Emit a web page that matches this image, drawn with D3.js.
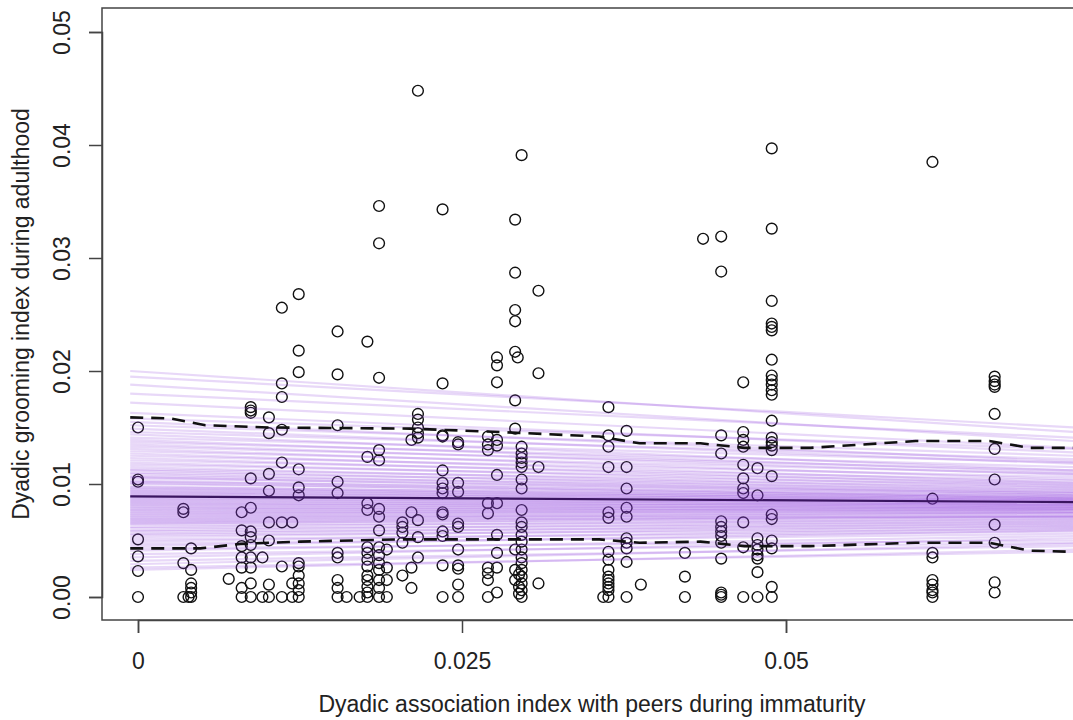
<!DOCTYPE html>
<html>
<head>
<meta charset="utf-8">
<script src="https://cdn.jsdelivr.net/npm/d3@7"></script>
<style>
  body { margin: 0; background: #fff; }
  svg { display: block; font-family: "Liberation Sans", Arial, sans-serif; }
</style>
</head>
<body>
<div class="container"></div>
<script>
const WIDTH = 1073;
const HEIGHT = 720;

// plot box (right edge runs off the page)
const BOX = {left: 102, top: 8, right: 1082, bottom: 620};

// association index of each group of dyads
var assocX = [0.0000, 0.0035, 0.0041, 0.0039, 0.0070, 0.0080, 0.0087, 0.0096, 0.0101, 0.0111,
  0.0119, 0.0124, 0.0154, 0.0161, 0.0171, 0.0177, 0.0186, 0.0192, 0.0204, 0.0211,
  0.0216, 0.0235, 0.0247, 0.0270, 0.0277, 0.0291, 0.0293, 0.0296, 0.0294, 0.0309,
  0.0359, 0.0363, 0.0377, 0.0388, 0.0422, 0.0436, 0.0450, 0.0467, 0.0478, 0.0489,
  0.0613, 0.0661];

// grooming index of the dyads sharing that association value
var groomY = [
  [0.0150, 0.0104, 0.0102, 0.0051, 0.0036, 0.0023, 0],
  [0.0078, 0.0075, 0.0030, 0],
  [0.0043, 0.0024, 0.0012, 0.0008, 0.0004, 0],
  [0],
  [0.0016],
  [0.0075, 0.0059, 0.0045, 0.0035, 0.0026, 0.0008, 0],
  [0.0168, 0.0165, 0.0163, 0.0105, 0.0079, 0.0058, 0.0053, 0.0046, 0.0035, 0.0026, 0.0012, 0],
  [0.0035, 0],
  [0.0159, 0.0145, 0.0109, 0.0094, 0.0066, 0.0050, 0.0011, 0],
  [0.0256, 0.0189, 0.0177, 0.0148, 0.0119, 0.0066, 0.0027, 0],
  [0.0066, 0.0012, 0],
  [0.0268, 0.0218, 0.0199, 0.0113, 0.0097, 0.0090, 0.0030, 0.0027, 0.0019, 0.0012, 0.0006, 0],
  [0.0235, 0.0197, 0.0152, 0.0102, 0.0092, 0.0039, 0.0035, 0.0015, 0.0008, 0],
  [0],
  [0],
  [0.0226, 0.0124, 0.0083, 0.0077, 0.0044, 0.0039, 0.0033, 0.0027, 0.0019, 0.0015, 0.0009, 0.0004, 0],
  [0.0346, 0.0313, 0.0194, 0.0130, 0.0121, 0.0078, 0.0071, 0.0059, 0.0044, 0.0037, 0.0030, 0.0024, 0.0015, 0.0008, 0],
  [0.0042, 0.0026, 0.0015, 0],
  [0.0066, 0.0062, 0.0057, 0.0048, 0.0019],
  [0.0139, 0.0075, 0.0026, 0.0008],
  [0.0448, 0.0162, 0.0157, 0.0150, 0.0145, 0.0141, 0.0068, 0.0053, 0.0035],
  [0.0343, 0.0189, 0.0143, 0.0142, 0.0112, 0.0101, 0.0096, 0.0092, 0.0075, 0.0073, 0.0058, 0.0054, 0.0028, 0],
  [0.0137, 0.0135, 0.0101, 0.0093, 0.0065, 0.0062, 0.0042, 0.0028, 0.0025, 0.0011, 0],
  [0.0142, 0.0135, 0.0130, 0.0083, 0.0074, 0.0026, 0.0021, 0.0015, 0],
  [0.0212, 0.0205, 0.0190, 0.0139, 0.0134, 0.0108, 0.0083, 0.0055, 0.0039, 0.0026, 0.0004],
  [0.0334, 0.0287, 0.0254, 0.0244, 0.0217, 0.0174, 0.0149, 0.0042, 0.0024, 0.0015],
  [0.0212],
  [0.0391, 0.0133, 0.0127, 0.0123, 0.0119, 0.0115, 0.0104, 0.0096, 0.0077, 0.0066, 0.0062, 0.0055, 0.0049, 0.0042, 0.0035, 0.0030, 0.0024, 0.0018, 0.0012, 0.0006, 0],
  [0.0020, 0.0009, 0.0003],
  [0.0271, 0.0198, 0.0115, 0.0012],
  [0],
  [0.0168, 0.0143, 0.0133, 0.0115, 0.0075, 0.0070, 0.0040, 0.0033, 0.0024, 0.0018, 0.0015, 0.0012, 0.0009, 0.0006, 0],
  [0.0147, 0.0115, 0.0096, 0.0079, 0.0071, 0.0052, 0.0048, 0.0043, 0.0031, 0],
  [0.0011],
  [0.0039, 0.0018, 0],
  [0.0317],
  [0.0319, 0.0288, 0.0143, 0.0127, 0.0067, 0.0062, 0.0058, 0.0054, 0.0048, 0.0034, 0.0004, 0.0002, 0],
  [0.0190, 0.0146, 0.0139, 0.0133, 0.0117, 0.0105, 0.0096, 0.0092, 0.0066, 0.0044, 0],
  [0.0114, 0.0090, 0.0052, 0.0046, 0.0042, 0.0037, 0.0034, 0.0022, 0],
  [0.0397, 0.0326, 0.0262, 0.0242, 0.0239, 0.0236, 0.0210, 0.0196, 0.0192, 0.0188, 0.0183, 0.0179, 0.0156, 0.0141, 0.0137, 0.0134, 0.0130, 0.0107, 0.0073, 0.0069, 0.0050, 0.0043, 0.0009, 0],
  [0.0385, 0.0087, 0.0039, 0.0035, 0.0015, 0.0011, 0.0006, 0.0004, 0],
  [0.0195, 0.0191, 0.0188, 0.0186, 0.0162, 0.0131, 0.0104, 0.0064, 0.0048, 0.0013, 0.0004]
];

// posterior draws: predicted grooming at both ends of the prediction range
var drawRange = [-0.0006, 0.0722];
var drawStart = [0.0200, 0.0195, 0.0188, 0.0180, 0.0172, 0.0163, 0.0158, 0.0155, 0.0152, 0.0149,
  0.0146, 0.0144, 0.0141, 0.0139, 0.0137, 0.0135, 0.0133, 0.0131, 0.0129, 0.0127,
  0.0125, 0.0123, 0.0121, 0.0119, 0.0117, 0.0115, 0.0113, 0.0112, 0.0110, 0.0109,
  0.0107, 0.0106, 0.0105, 0.0103, 0.0102, 0.0101, 0.0100, 0.0098, 0.0097, 0.0096,
  0.0095, 0.0094, 0.0093, 0.0092, 0.0091, 0.0090, 0.0089, 0.0088, 0.0087, 0.0086,
  0.0085, 0.0084, 0.0083, 0.0082, 0.0081, 0.0080, 0.0079, 0.0078, 0.0077, 0.0076,
  0.0075, 0.0074, 0.0073, 0.0072, 0.0071, 0.0070, 0.0069, 0.0068, 0.0067, 0.0066,
  0.0065, 0.0064, 0.0062, 0.0061, 0.0059, 0.0058, 0.0056, 0.0055, 0.0053, 0.0051,
  0.0049, 0.0047, 0.0045, 0.0043, 0.0041, 0.0038, 0.0035, 0.0032, 0.0029, 0.0026,
  0.0024];
var drawEnd = [0.0146, 0.0150, 0.0138, 0.0141, 0.0132, 0.0128, 0.0131, 0.0120, 0.0125, 0.0118,
  0.0122, 0.0112, 0.0119, 0.0110, 0.0115, 0.0108, 0.0112, 0.0104, 0.0109, 0.0101,
  0.0106, 0.0099, 0.0103, 0.0097, 0.0101, 0.0095, 0.0099, 0.0093, 0.0097, 0.0091,
  0.0095, 0.0090, 0.0093, 0.0088, 0.0092, 0.0087, 0.0090, 0.0086, 0.0089, 0.0085,
  0.0088, 0.0084, 0.0087, 0.0083, 0.0086, 0.0082, 0.0085, 0.0081, 0.0084, 0.0080,
  0.0083, 0.0079, 0.0082, 0.0078, 0.0081, 0.0077, 0.0080, 0.0076, 0.0079, 0.0075,
  0.0078, 0.0074, 0.0077, 0.0072, 0.0075, 0.0071, 0.0074, 0.0070, 0.0072, 0.0068,
  0.0071, 0.0066, 0.0069, 0.0064, 0.0067, 0.0062, 0.0065, 0.0060, 0.0063, 0.0058,
  0.0061, 0.0056, 0.0059, 0.0050, 0.0054, 0.0048, 0.0052, 0.0045, 0.0047, 0.0040,
  0.0042];

// posterior mean
var meanX = [-0.0006, 0.0722];
var meanY = [0.0089, 0.0084];

// credible interval bounds
var upperX = [-0.0006, 0.0025, 0.0052, 0.0102, 0.0210, 0.0279, 0.0356, 0.0387, 0.0434, 0.0468, 0.0519, 0.0600, 0.0657, 0.0688, 0.0722];
var upperY = [0.0159, 0.0158, 0.0152, 0.0150, 0.0149, 0.0146, 0.0142, 0.0136, 0.0136, 0.0132, 0.0132, 0.0138, 0.0138, 0.0132, 0.0132];
var lowerX = [-0.0006, 0.0048, 0.0079, 0.0125, 0.0202, 0.0356, 0.0387, 0.0434, 0.0468, 0.0519, 0.0600, 0.0657, 0.0688, 0.0722];
var lowerY = [0.0043, 0.0043, 0.0047, 0.0049, 0.0051, 0.0051, 0.0048, 0.0049, 0.0045, 0.0045, 0.0048, 0.0048, 0.0041, 0.0040];

var xTicks = [0, 0.025, 0.05];
var xTickLabels = ["0", "0.025", "0.05"];
var yTicks = [0, 0.01, 0.02, 0.03, 0.04, 0.05];
var yTickLabels = ["0.00", "0.01", "0.02", "0.03", "0.04", "0.05"];

var xTitle = "Dyadic association index with peers during immaturity";
var yTitle = "Dyadic grooming index during adulthood";

var translate = function (x, y) {
  return "translate(" + x + "," + y + ")";
};

var pairUp = function (xs, ys) {
  return xs.map(function (x, i) { return [x, ys[i]]; });
};

var draw = function () {
  var svg = d3.select('.container').append('svg')
    .attr('width', WIDTH)
    .attr('height', HEIGHT);

  var xScale = d3.scaleLinear().domain([0, 0.05]).range([138, 786]);
  var yScale = d3.scaleLinear().domain([0, 0.05]).range([597, 32]);

  svg.append('clipPath').attr('id', 'plotArea')
    .append('rect')
    .attr('x', BOX.left).attr('y', BOX.top)
    .attr('width', BOX.right - BOX.left).attr('height', BOX.bottom - BOX.top);

  var points = [];
  assocX.forEach(function (x, i) {
    groomY[i].forEach(function (y) { points.push([x, y]); });
  });

  var plot = svg.append('g').attr('clip-path', 'url(#plotArea)');

  plot.append('g').selectAll('circle')
    .data(points)
    .enter().append('circle')
    .attr('cx', function (d) { return xScale(d[0]); })
    .attr('cy', function (d) { return yScale(d[1]); })
    .attr('r', 5.4)
    .attr('fill', 'none')
    .attr('stroke', '#111')
    .attr('stroke-width', 1.4);

  var line = d3.line()
    .x(function (d) { return xScale(d[0]); })
    .y(function (d) { return yScale(d[1]); });

  // one faint line per posterior draw
  plot.append('g').selectAll('path')
    .data(drawStart.map(function (s, i) { return pairUp(drawRange, [s, drawEnd[i]]); }))
    .enter().append('path')
    .attr('d', line)
    .attr('fill', 'none')
    .attr('stroke', 'rgb(142, 62, 222)')
    .attr('stroke-opacity', 0.2)
    .attr('stroke-width', 2.2);

  plot.append('path')
    .datum(pairUp(meanX, meanY))
    .attr('d', line)
    .attr('fill', 'none')
    .attr('stroke', '#3a1560')
    .attr('stroke-width', 2.2);

  [pairUp(upperX, upperY), pairUp(lowerX, lowerY)].forEach(function (bound) {
    plot.append('path')
      .datum(bound)
      .attr('d', line)
      .attr('fill', 'none')
      .attr('stroke', '#111')
      .attr('stroke-width', 2.6)
      .attr('stroke-dasharray', '13,8');
  });

  // frame
  svg.append('rect')
    .attr('x', BOX.left).attr('y', BOX.top)
    .attr('width', BOX.right - BOX.left).attr('height', BOX.bottom - BOX.top)
    .attr('fill', 'none')
    .attr('stroke', '#444')
    .attr('stroke-width', 1.5);

  // axes
  var xAxis = d3.axisBottom(xScale)
    .tickValues(xTicks)
    .tickFormat(function (d, i) { return xTickLabels[i]; })
    .tickSizeOuter(0)
    .tickSize(13)
    .tickPadding(20);

  var gx = svg.append('g')
    .attr('transform', translate(0, BOX.bottom))
    .call(xAxis);
  gx.select('.domain').attr('stroke', '#444').attr('stroke-width', 1.5);
  gx.selectAll('.tick line').attr('stroke', '#444').attr('stroke-width', 1.5);
  gx.selectAll('.tick text')
    .attr('font-size', 23)
    .attr('font-family', '"Liberation Sans", Arial, sans-serif')
    .attr('fill', '#222');

  var yAxis = d3.axisLeft(yScale)
    .tickValues(yTicks)
    .tickFormat(function (d, i) { return yTickLabels[i]; })
    .tickSizeOuter(0)
    .tickSize(13);

  var gy = svg.append('g')
    .attr('transform', translate(BOX.left, 0))
    .call(yAxis);
  gy.select('.domain').attr('stroke', '#444').attr('stroke-width', 1.5);
  gy.selectAll('.tick line').attr('stroke', '#444').attr('stroke-width', 1.5);
  gy.selectAll('.tick text')
    .attr('x', null).attr('dy', null)
    .attr('transform', 'translate(-32,0) rotate(-90)')
    .attr('text-anchor', 'middle')
    .attr('font-size', 23)
    .attr('font-family', '"Liberation Sans", Arial, sans-serif')
    .attr('fill', '#222');

  svg.append('text')
    .attr('x', (BOX.left + BOX.right) / 2)
    .attr('y', 712)
    .attr('text-anchor', 'middle')
    .attr('font-size', 23)
    .attr('fill', '#222')
    .text(xTitle);

  svg.append('text')
    .attr('transform', translate(29, (BOX.top + BOX.bottom) / 2) + ' rotate(-90)')
    .attr('text-anchor', 'middle')
    .attr('font-size', 23)
    .attr('fill', '#222')
    .text(yTitle);
};

window.onload = draw;
</script>
</body>
</html>
